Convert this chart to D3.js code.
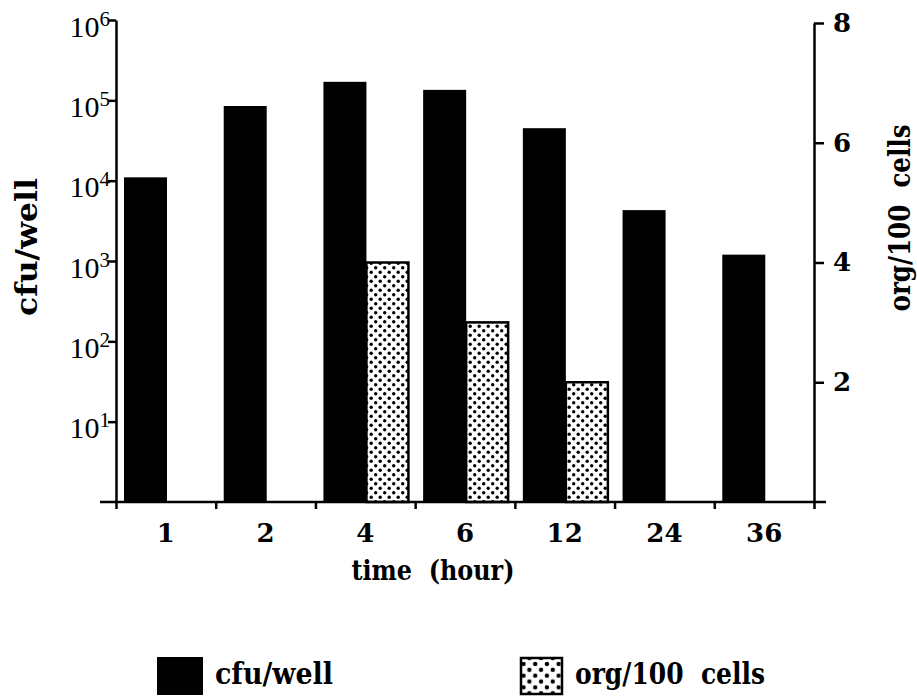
<!DOCTYPE html>
<html>
<head>
<meta charset="utf-8">
<script src="https://cdn.jsdelivr.net/npm/d3@7/dist/d3.min.js"></script>
<style>
  html, body { margin: 0; padding: 0; background: #fff; }
  svg { display: block; font-family: "Liberation Serif", "Times New Roman", serif; }
  .bold { font-family: "DejaVu Serif", "Liberation Serif", serif; font-weight: bold; }
</style>
</head>
<body>
<svg id="chart" width="917" height="696"></svg>
<script>
// Time points (hours) and the two measured series
const times = ["1", "2", "4", "6", "12", "24", "36"];
const cfuPerWell = [1.1e4, 8.5e4, 1.7e5, 1.35e5, 4.5e4, 4.3e3, 1.2e3];
const orgPer100Cells = [null, null, 4, 3, 2, null, null];

// Axis ticks
const leftTickValues = [1e1, 1e2, 1e3, 1e4, 1e5, 1e6];
const leftTickExponents = ["1", "2", "3", "4", "5", "6"];
const rightTickValues = [2, 4, 6, 8];

// Series labels
const seriesNames = ["cfu/well", "org/100  cells"];

const svg = d3.select("#chart");

const plot = { left: 116, right: 814, top: 20, bottom: 502 };

const x = d3.scaleBand().domain(times).range([plot.left, plot.right]);
const xInner = d3.scaleBand().domain(["cfu", "org"]).range([8, 94]);
const xEdge = d3.scaleLinear().domain([0, times.length]).range([plot.left, plot.right]);
const yLog = d3.scaleLog().domain([1, 1e6]).range([plot.bottom, plot.top]);
const yLin = d3.scaleLinear().domain([0, 8]).range([plot.bottom, 23]);

// Dot fill for the org/100 cells bars
const defs = svg.append("defs");
function dotPattern(id, scale) {
  const p = defs.append("pattern")
    .attr("id", id)
    .attr("patternUnits", "userSpaceOnUse")
    .attr("width", 9).attr("height", 9)
    .attr("patternTransform", `scale(${scale})`);
  p.append("rect").attr("width", 9).attr("height", 9).attr("fill", "#fff");
  p.append("circle").attr("cx", 2.2).attr("cy", 2.2).attr("r", 1.7).attr("fill", "#000");
  p.append("circle").attr("cx", 6.7).attr("cy", 6.7).attr("r", 1.7).attr("fill", "#000");
}
dotPattern("dots", 1);
dotPattern("dotsLegend", 1.3);

// cfu/well bars (log scale)
svg.append("g").selectAll("rect")
  .data(times.map((t, i) => ({ t, v: cfuPerWell[i] })))
  .join("rect")
  .attr("x", d => x(d.t) + xInner("cfu"))
  .attr("width", xInner.bandwidth())
  .attr("y", d => yLog(d.v))
  .attr("height", d => yLog(1) - yLog(d.v))
  .attr("fill", "#000");

// org/100 cells bars (linear scale)
svg.append("g").selectAll("rect")
  .data(times.map((t, i) => ({ t, v: orgPer100Cells[i] })).filter(d => d.v != null))
  .join("rect")
  .attr("x", d => x(d.t) + xInner("org"))
  .attr("width", xInner.bandwidth() - 1)
  .attr("y", d => yLin(d.v))
  .attr("height", d => yLin(0) - yLin(d.v))
  .attr("fill", "url(#dots)")
  .attr("stroke", "#000")
  .attr("stroke-width", 2.5);

// Left log axis
const gLeft = svg.append("g")
  .attr("transform", `translate(${plot.left},0)`)
  .call(d3.axisLeft(yLog).tickValues(leftTickValues).tickSize(8).tickSizeOuter(0).tickFormat(() => ""));
gLeft.select(".domain").attr("stroke-width", 2.5);
gLeft.selectAll(".tick line").attr("stroke-width", 2.5);
gLeft.selectAll(".tick text")
  .attr("x", -6).attr("dy", null).attr("y", 16)
  .attr("text-anchor", "end")
  .attr("fill", "#000")
  .style("font-family", "Liberation Serif")
  .style("font-size", "30px")
  .each(function(d, i) {
    const t = d3.select(this);
    t.append("tspan").text("10");
    t.append("tspan").attr("dy", -11).style("font-size", "21px").text(leftTickExponents[i]);
  });

// Right linear axis
const gRight = svg.append("g")
  .attr("transform", `translate(${plot.right},0)`)
  .call(d3.axisRight(yLin).tickValues(rightTickValues).tickSize(10).tickSizeOuter(0).tickPadding(9));
gRight.select(".domain").attr("stroke-width", 2.5);
gRight.selectAll(".tick line").attr("stroke-width", 2.5);
gRight.selectAll(".tick text")
  .attr("class", "bold")
  .attr("fill", "#000")
  .style("font-size", "26px");

// Bottom axis: baseline, boundary ticks and time labels
svg.append("line")
  .attr("x1", 100).attr("x2", 826)
  .attr("y1", plot.bottom).attr("y2", plot.bottom)
  .attr("stroke", "#000").attr("stroke-width", 2.5);

const gEdges = svg.append("g")
  .attr("transform", `translate(0,${plot.bottom})`)
  .call(d3.axisBottom(xEdge).tickValues(d3.range(times.length + 1)).tickSize(7).tickFormat(() => ""));
gEdges.select(".domain").remove();
gEdges.selectAll(".tick line").attr("stroke-width", 2.5);

const gBottom = svg.append("g")
  .attr("transform", `translate(0,${plot.bottom})`)
  .call(d3.axisBottom(x).tickSize(0).tickPadding(22));
gBottom.select(".domain").remove();
gBottom.selectAll(".tick text")
  .attr("class", "bold")
  .attr("fill", "#000")
  .style("font-size", "26px");

// Axis titles
svg.append("text")
  .attr("class", "bold")
  .attr("transform", "translate(37,247) rotate(-90)")
  .attr("text-anchor", "middle")
  .attr("textLength", 138).attr("lengthAdjust", "spacingAndGlyphs")
  .style("font-size", "30px")
  .text(seriesNames[0]);

svg.append("text")
  .attr("class", "bold")
  .attr("transform", "translate(910,218) rotate(-90)")
  .attr("text-anchor", "middle")
  .attr("xml:space", "preserve")
  .attr("textLength", 187).attr("lengthAdjust", "spacingAndGlyphs")
  .style("font-size", "29px")
  .text(seriesNames[1]);

svg.append("text")
  .attr("class", "bold")
  .attr("x", 433).attr("y", 580)
  .attr("text-anchor", "middle")
  .attr("xml:space", "preserve")
  .attr("textLength", 163).attr("lengthAdjust", "spacingAndGlyphs")
  .style("font-size", "28px")
  .text("time  (hour)");

// Legend
const legend = svg.append("g");
legend.append("rect")
  .attr("x", 157).attr("y", 657).attr("width", 46).attr("height", 38)
  .attr("fill", "#000");
legend.append("text")
  .attr("class", "bold")
  .attr("x", 215).attr("y", 684)
  .attr("textLength", 118).attr("lengthAdjust", "spacingAndGlyphs")
  .style("font-size", "30px")
  .text(seriesNames[0]);
legend.append("rect")
  .attr("x", 521).attr("y", 658).attr("width", 41).attr("height", 36)
  .attr("fill", "url(#dotsLegend)")
  .attr("stroke", "#000").attr("stroke-width", 2.5);
legend.append("text")
  .attr("class", "bold")
  .attr("x", 575).attr("y", 684)
  .attr("xml:space", "preserve")
  .attr("textLength", 190).attr("lengthAdjust", "spacingAndGlyphs")
  .style("font-size", "30px")
  .text(seriesNames[1]);
</script>
</body>
</html>
